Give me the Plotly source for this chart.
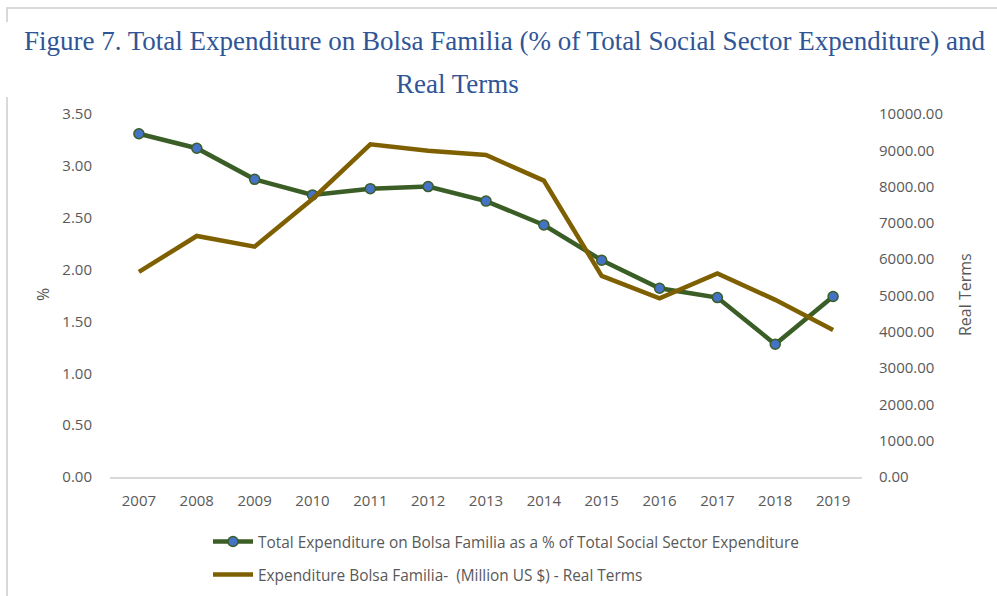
import plotly.graph_objects as go

# Years on the category axis
years = ["2007", "2008", "2009", "2010", "2011", "2012", "2013",
         "2014", "2015", "2016", "2017", "2018", "2019"]

# Bolsa Familia as a share of total social sector expenditure (%)
share_pct = [3.31, 3.17, 2.87, 2.72, 2.78, 2.80, 2.66,
             2.43, 2.09, 1.82, 1.73, 1.28, 1.74]

# Bolsa Familia expenditure, million US$, real terms
real_musd = [5650, 6640, 6345, 7660, 9165, 8990, 8870,
             8165, 5540, 4920, 5610, 4880, 4050]

left_ticks = [0, 0.5, 1, 1.5, 2, 2.5, 3, 3.5]
right_ticks = [0, 1000, 2000, 3000, 4000, 5000, 6000, 7000, 8000, 9000, 10000]

W, H = 997, 596
ML, MR, MT, MB = 110, 135, 114, 119
PW, PH = W - ML - MR, H - MT - MB

GREY = "#595959"
SANS = "Open Sans, Noto Sans, sans-serif"
TICKFONT = dict(family=SANS, size=15, color=GREY)

fig = go.Figure()

fig.add_trace(go.Scatter(
    x=years, y=share_pct, mode="lines+markers",
    name="Total Expenditure on Bolsa Familia as a % of Total Social Sector Expenditure",
    legendgroup="share",
    line=dict(color="#3A5E25", width=4.5),
    marker=dict(color="#4472C4", size=10, line=dict(color="#3A5E25", width=1.5)),
    yaxis="y",
))

fig.add_trace(go.Scatter(
    x=years, y=real_musd, mode="lines",
    name="Expenditure Bolsa Familia-  (Million US $) - Real Terms",
    legendgroup="real",
    line=dict(color="#7F6000", width=4.5),
    yaxis="y2",
))


def px_x(p):
    return (p - ML) / PW


def px_y(p):
    return (H - MB - p) / PH


border = dict(color="#D9D9D9", width=2)
shapes = [
    # outer chart frame (top edge and left edge, broken by the title box)
    dict(type="line", xref="paper", yref="paper", x0=px_x(6), x1=px_x(1000),
         y0=px_y(8), y1=px_y(8), line=border),
    dict(type="line", xref="paper", yref="paper", x0=px_x(7), x1=px_x(7),
         y0=px_y(8), y1=px_y(22), line=border),
    dict(type="line", xref="paper", yref="paper", x0=px_x(7), x1=px_x(7),
         y0=px_y(97), y1=px_y(600), line=border),
]

title_font = dict(family="Liberation Serif, Times New Roman, serif", size=27, color="#2F5597")
axis_title_font = dict(family=SANS, size=16, color=GREY)
annotations = [
    dict(text="Figure 7. Total Expenditure on Bolsa Familia (% of Total Social Sector Expenditure) and",
         xref="paper", yref="paper", x=px_x(505), y=px_y(41), showarrow=False,
         xanchor="center", yanchor="middle", font=title_font),
    dict(text="Real Terms",
         xref="paper", yref="paper", x=px_x(457), y=px_y(84), showarrow=False,
         xanchor="center", yanchor="middle", font=title_font),
    # axis titles
    dict(text="%", xref="paper", yref="paper", x=px_x(43), y=px_y(295),
         showarrow=False, textangle=-90, xanchor="center", yanchor="middle",
         font=axis_title_font),
    dict(text="Real Terms", xref="paper", yref="paper", x=px_x(965), y=px_y(295),
         showarrow=False, textangle=-90, xanchor="center", yanchor="middle",
         font=axis_title_font),
]

fig.update_layout(
    width=W, height=H,
    margin=dict(l=ML, r=MR, t=MT, b=MB, autoexpand=False),
    paper_bgcolor="white", plot_bgcolor="white",
    showlegend=True,
    legend=dict(x=px_x(208), y=px_y(525), xanchor="left", yanchor="top",
                orientation="v", traceorder="grouped", tracegroupgap=10,
                font=dict(family=SANS, size=15.4, color=GREY),
                itemwidth=40, bgcolor="rgba(0,0,0,0)"),
    xaxis=dict(type="category", range=[-0.5, 12.5], showgrid=False,
               showline=True, linecolor="#D9D9D9", linewidth=1.5,
               ticks="", tickfont=TICKFONT, ticklabelstandoff=9, zeroline=False),
    yaxis=dict(range=[0, 3.5], tickvals=left_ticks,
               ticktext=[f"{v:.2f}" for v in left_ticks],
               showgrid=False, zeroline=False, showline=False,
               tickfont=TICKFONT, ticklabelstandoff=17),
    yaxis2=dict(range=[0, 10000], tickvals=right_ticks,
                ticktext=[f"{v:.2f}" for v in right_ticks],
                overlaying="y", side="right",
                showgrid=False, zeroline=False, showline=False,
                tickfont=TICKFONT, ticklabelstandoff=16),
    shapes=shapes,
    annotations=annotations,
)

fig.write_html("out.html")
